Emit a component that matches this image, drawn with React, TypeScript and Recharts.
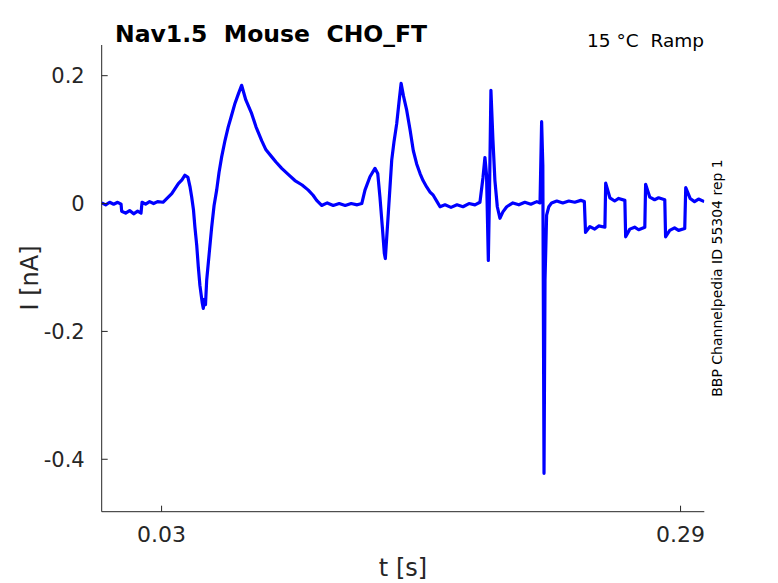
import React from "react";
import { LineChart, Line, XAxis, YAxis } from "recharts";

// time [s] and current [nA]
const times = [
  0.0, 0.002, 0.004, 0.006, 0.008, 0.0097,
  0.01, 0.012, 0.014, 0.016, 0.018, 0.0197,
  0.0202, 0.022, 0.024, 0.026, 0.028, 0.0307,
  0.0351, 0.0384, 0.0402, 0.0417, 0.0432,
  0.0442, 0.0451, 0.046, 0.0467, 0.0476, 0.0484, 0.0492, 0.0504, 0.0509, 0.0515, 0.052,
  0.0526, 0.0538, 0.0551, 0.0563, 0.0576, 0.0588, 0.0601, 0.0618, 0.0634, 0.0648, 0.0668, 0.0683, 0.0701,
  0.0722, 0.0751, 0.0773, 0.0802, 0.0823, 0.0852, 0.0873, 0.0902, 0.0933, 0.0968, 0.1004, 0.1035, 0.1059, 0.1077, 0.1102,
  0.113, 0.116, 0.119, 0.122, 0.125, 0.128, 0.1303,
  0.1319, 0.1344, 0.1369, 0.1383, 0.1394, 0.1406, 0.1416, 0.1421,
  0.1436, 0.1453, 0.1465, 0.1478, 0.149, 0.15,
  0.1512, 0.1528, 0.1545, 0.1561, 0.1578, 0.1595, 0.161, 0.1628, 0.1645, 0.1661, 0.168, 0.1695,
  0.172, 0.175, 0.178, 0.181, 0.184, 0.187, 0.1895,
  0.191, 0.192, 0.1928, 0.1937, 0.1943, 0.195, 0.196, 0.197, 0.1982, 0.1995, 0.201, 0.2029,
  0.206, 0.209, 0.212, 0.215, 0.218, 0.2196,
  0.2204, 0.221, 0.2216, 0.2221, 0.2229, 0.224, 0.2254,
  0.228, 0.231, 0.234, 0.237, 0.24, 0.2418,
  0.2424, 0.2446, 0.247, 0.249, 0.2521,
  0.2525, 0.2546, 0.257, 0.259, 0.2621,
  0.2625, 0.2646, 0.267, 0.269, 0.2721,
  0.2725, 0.2746, 0.277, 0.279, 0.2821,
  0.2825, 0.2846, 0.287, 0.289, 0.2921,
  0.2926, 0.2948, 0.297, 0.299, 0.3019,
];

const currents = [
  0.001, -0.002, 0.002, -0.001, 0.002, -0.001,
  -0.012, -0.015, -0.011, -0.016, -0.012, -0.015,
  0.002, -0.001, 0.003, 0.0, 0.003, 0.002,
  0.0156, 0.0312, 0.037, 0.0443, 0.041,
  0.027, 0.0099, -0.0105, -0.037, -0.065, -0.099, -0.128, -0.156, -0.164, -0.15, -0.158,
  -0.12, -0.08, -0.037, -0.003, 0.021, 0.049, 0.073, 0.099, 0.12, 0.135, 0.157, 0.17, 0.185,
  0.162, 0.141, 0.12, 0.098, 0.084, 0.073, 0.065, 0.055, 0.046, 0.036, 0.029, 0.021, 0.013, 0.005, -0.003,
  0.001, -0.003, 0.0, -0.003, 0.0, -0.002, 0.0,
  0.021, 0.042, 0.055, 0.047, 0.01, -0.037, -0.078, -0.086,
  -0.015, 0.068, 0.098, 0.125, 0.16, 0.188,
  0.168, 0.146, 0.115, 0.083, 0.062, 0.047, 0.036, 0.026, 0.018, 0.013, 0.003, -0.005,
  -0.002, -0.006, -0.002, -0.005, 0.0, -0.002, 0.002,
  0.04, 0.072, 0.045, -0.089, 0.02, 0.177, 0.1, 0.036, -0.005, -0.023, -0.013, -0.005,
  0.001, -0.002, 0.002, -0.001, 0.003, 0.001,
  0.128, 0.06, -0.422, -0.12, -0.018, -0.005, 0.001,
  0.004, 0.001, 0.004, 0.002, 0.005, 0.003,
  -0.045, -0.036, -0.04, -0.035, -0.037,
  0.032, 0.009, 0.004, 0.008, 0.005,
  -0.052, -0.04, -0.037, -0.041, -0.037,
  0.03, 0.01, 0.006, 0.009, 0.006,
  -0.052, -0.042, -0.038, -0.042, -0.039,
  0.025, 0.008, 0.003, 0.007, 0.003,
];

const xTicks = [0.03, 0.29];
const yTicks = [-0.4, -0.2, 0, 0.2];

const data = times.map((t, i) => ({ t, i: currents[i] }));

const AXIS = "#262626";
const FONT = "DejaVu Sans, sans-serif";

const XTick = (props: any) => {
  const { x, y, payload } = props;
  return (
    <g>
      <line x1={x} y1={y} x2={x} y2={y - 6} stroke={AXIS} strokeWidth={1} />
      <text x={x} y={y + 30} textAnchor="middle" fill={AXIS} fontSize={22} fontFamily={FONT}>
        {payload.value}
      </text>
    </g>
  );
};

const YTick = (props: any) => {
  const { x, y, payload } = props;
  return (
    <g>
      <line x1={x} y1={y} x2={x + 6} y2={y} stroke={AXIS} strokeWidth={1} />
      <text x={x - 17} y={y + 7.5} textAnchor="end" fill={AXIS} fontSize={21} fontFamily={FONT}>
        {payload.value}
      </text>
    </g>
  );
};

export default function App() {
  return (
    <div style={{ position: "absolute", left: 0, top: 0, width: 778, height: 583, background: "#fff" }}>
      <LineChart
        width={778}
        height={583}
        data={data}
        margin={{ top: 45, right: 73.7, bottom: 21.3, left: 41.7 }}
      >
        <XAxis
          dataKey="t"
          type="number"
          domain={[0, 0.3019]}
          ticks={xTicks}
          tickSize={0}
          tickMargin={0}
          height={50}
          stroke={AXIS}
          tick={<XTick />}
          allowDataOverflow
        />
        <YAxis
          type="number"
          domain={[-0.482, 0.248]}
          ticks={yTicks}
          tickSize={0}
          tickMargin={0}
          width={60}
          stroke={AXIS}
          tick={<YTick />}
          allowDataOverflow
        />
        <Line
          dataKey="i"
          type="linear"
          stroke="#0000ff"
          strokeWidth={3.2}
          dot={false}
          isAnimationActive={false}
          strokeLinejoin="round"
        />
      </LineChart>
      <svg
        width={778}
        height={583}
        style={{ position: "absolute", left: 0, top: 0, pointerEvents: "none" }}
      >
        <text x={115} y={42} fontSize={23.5} fontWeight="bold" fontFamily={FONT} fill="#000" style={{ whiteSpace: "pre" }}>
          {"Nav1.5  Mouse  CHO_FT"}
        </text>
        <text x={704} y={47} textAnchor="end" fontSize={18.5} fontFamily={FONT} fill="#000" style={{ whiteSpace: "pre" }}>
          {"15 °C  Ramp"}
        </text>
        <text x={403} y={576} textAnchor="middle" fontSize={24} fontFamily={FONT} fill={AXIS}>
          t [s]
        </text>
        <text
          x={0}
          y={0}
          transform="translate(38,278) rotate(-90)"
          textAnchor="middle"
          fontSize={24}
          fontFamily={FONT}
          fill={AXIS}
        >
          I [nA]
        </text>
        <text
          x={0}
          y={0}
          transform="translate(722,278) rotate(-90)"
          textAnchor="middle"
          fontSize={14}
          fontFamily={FONT}
          fill="#000"
        >
          BBP Channelpedia ID 55304 rep 1
        </text>
      </svg>
    </div>
  );
}
